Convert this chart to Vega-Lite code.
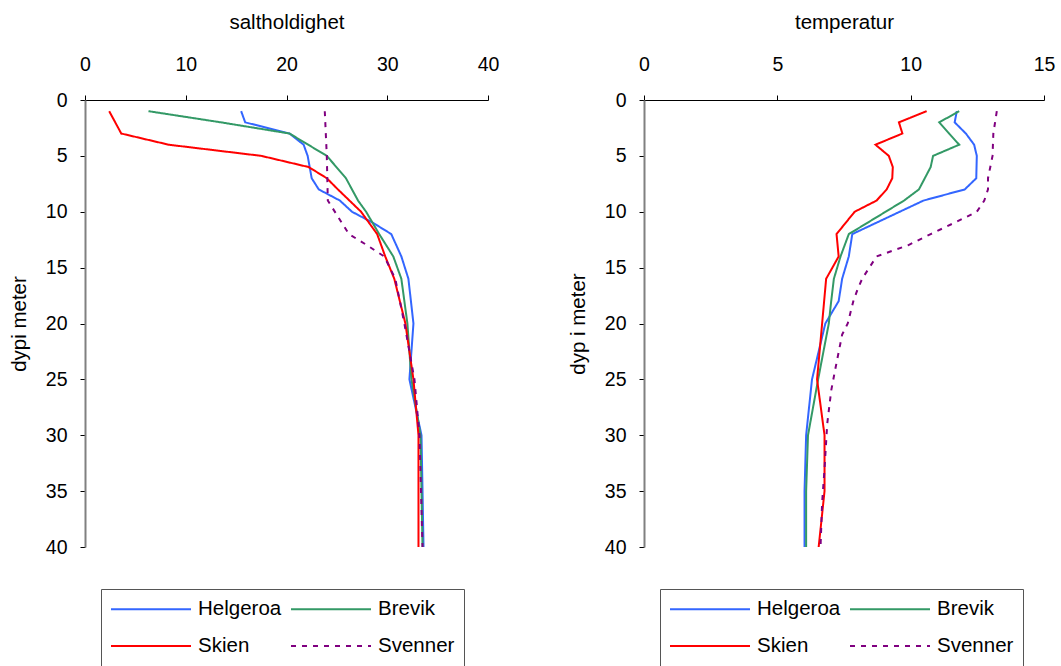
{
  "$schema": "https://vega.github.io/schema/vega-lite/v6.json",
  "padding": {"left": 9, "top": 12, "right": 5, "bottom": 5},
  "config": {
    "font": "Liberation Sans",
    "view": {"stroke": null},
    "axis": {"grid": false, "labelFlush": false, "labelFont": "Liberation Sans", "labelFontSize": 19.5, "labelColor": "black", "titleFont": "Liberation Sans", "titleFontSize": 20.5, "titleFontWeight": "normal", "titleColor": "black", "tickColor": "black", "tickSize": 5, "domainColor": "black"},
    "legend": {"orient": "none", "legendX": 16, "legendY": 489, "direction": "horizontal", "columns": 2, "symbolType": "M-1,0H7", "symbolSize": 400, "labelFont": "Liberation Sans", "labelFontSize": 20.5, "labelColor": "black", "labelOffset": 66, "columnPadding": 5, "rowPadding": 15, "padding": 9, "strokeColor": "#555555", "fillColor": "white"},
    "line": {"strokeCap": "butt"}
  },
  "datasets": {
    "salt": [
      {"site": "Helgeroa", "depth": 1, "v": 15.5}, {"site": "Helgeroa", "depth": 2, "v": 15.9}, {"site": "Helgeroa", "depth": 3, "v": 20.3}, {"site": "Helgeroa", "depth": 4, "v": 21.7}, {"site": "Helgeroa", "depth": 5, "v": 22.1}, {"site": "Helgeroa", "depth": 7, "v": 22.5}, {"site": "Helgeroa", "depth": 8, "v": 23.2}, {"site": "Helgeroa", "depth": 9, "v": 25.3}, {"site": "Helgeroa", "depth": 10, "v": 26.5}, {"site": "Helgeroa", "depth": 11, "v": 28.6}, {"site": "Helgeroa", "depth": 12, "v": 30.4}, {"site": "Helgeroa", "depth": 14, "v": 31.4}, {"site": "Helgeroa", "depth": 16, "v": 32.1}, {"site": "Helgeroa", "depth": 20, "v": 32.6}, {"site": "Helgeroa", "depth": 25, "v": 32.2}, {"site": "Helgeroa", "depth": 30, "v": 33.4}, {"site": "Helgeroa", "depth": 40, "v": 33.6},
      {"site": "Brevik", "depth": 1, "v": 6.3}, {"site": "Brevik", "depth": 2, "v": 13.5}, {"site": "Brevik", "depth": 3, "v": 20.3}, {"site": "Brevik", "depth": 5, "v": 24.0}, {"site": "Brevik", "depth": 7, "v": 25.9}, {"site": "Brevik", "depth": 9, "v": 27.1}, {"site": "Brevik", "depth": 10, "v": 27.9}, {"site": "Brevik", "depth": 12, "v": 29.2}, {"site": "Brevik", "depth": 14, "v": 30.6}, {"site": "Brevik", "depth": 16, "v": 31.4}, {"site": "Brevik", "depth": 20, "v": 32.0}, {"site": "Brevik", "depth": 25, "v": 32.4}, {"site": "Brevik", "depth": 30, "v": 33.3}, {"site": "Brevik", "depth": 40, "v": 33.5},
      {"site": "Skien", "depth": 1, "v": 2.4}, {"site": "Skien", "depth": 2, "v": 3.0}, {"site": "Skien", "depth": 3, "v": 3.6}, {"site": "Skien", "depth": 4, "v": 8.3}, {"site": "Skien", "depth": 5, "v": 17.5}, {"site": "Skien", "depth": 6, "v": 22.2}, {"site": "Skien", "depth": 7, "v": 24.0}, {"site": "Skien", "depth": 8, "v": 25.1}, {"site": "Skien", "depth": 10, "v": 27.4}, {"site": "Skien", "depth": 12, "v": 29.0}, {"site": "Skien", "depth": 14, "v": 29.8}, {"site": "Skien", "depth": 16, "v": 30.7}, {"site": "Skien", "depth": 20, "v": 31.8}, {"site": "Skien", "depth": 25, "v": 32.6}, {"site": "Skien", "depth": 30, "v": 33.1}, {"site": "Skien", "depth": 40, "v": 33.1},
      {"site": "Svenner", "depth": 1, "v": 23.8}, {"site": "Svenner", "depth": 5, "v": 24.0}, {"site": "Svenner", "depth": 9, "v": 24.1}, {"site": "Svenner", "depth": 12, "v": 26.2}, {"site": "Svenner", "depth": 13, "v": 28.0}, {"site": "Svenner", "depth": 14, "v": 29.7}, {"site": "Svenner", "depth": 16, "v": 30.8}, {"site": "Svenner", "depth": 20, "v": 31.7}, {"site": "Svenner", "depth": 25, "v": 32.7}, {"site": "Svenner", "depth": 30, "v": 33.2}, {"site": "Svenner", "depth": 40, "v": 33.5}
    ],
    "temp": [
      {"site": "Helgeroa", "depth": 1, "v": 11.73}, {"site": "Helgeroa", "depth": 2, "v": 11.65}, {"site": "Helgeroa", "depth": 3, "v": 12.07}, {"site": "Helgeroa", "depth": 4, "v": 12.38}, {"site": "Helgeroa", "depth": 5, "v": 12.48}, {"site": "Helgeroa", "depth": 7, "v": 12.46}, {"site": "Helgeroa", "depth": 8, "v": 12.03}, {"site": "Helgeroa", "depth": 9, "v": 10.48}, {"site": "Helgeroa", "depth": 12, "v": 7.81}, {"site": "Helgeroa", "depth": 14, "v": 7.68}, {"site": "Helgeroa", "depth": 16, "v": 7.43}, {"site": "Helgeroa", "depth": 18, "v": 7.3}, {"site": "Helgeroa", "depth": 20, "v": 6.8}, {"site": "Helgeroa", "depth": 25, "v": 6.3}, {"site": "Helgeroa", "depth": 30, "v": 6.08}, {"site": "Helgeroa", "depth": 35, "v": 6.02}, {"site": "Helgeroa", "depth": 40, "v": 6.02},
      {"site": "Brevik", "depth": 1, "v": 11.82}, {"site": "Brevik", "depth": 2, "v": 11.07}, {"site": "Brevik", "depth": 3, "v": 11.44}, {"site": "Brevik", "depth": 4, "v": 11.82}, {"site": "Brevik", "depth": 5, "v": 10.84}, {"site": "Brevik", "depth": 6, "v": 10.75}, {"site": "Brevik", "depth": 8, "v": 10.31}, {"site": "Brevik", "depth": 9, "v": 9.75}, {"site": "Brevik", "depth": 10, "v": 9.06}, {"site": "Brevik", "depth": 12, "v": 7.68}, {"site": "Brevik", "depth": 14, "v": 7.37}, {"site": "Brevik", "depth": 16, "v": 7.12}, {"site": "Brevik", "depth": 18, "v": 7.02}, {"site": "Brevik", "depth": 20, "v": 6.93}, {"site": "Brevik", "depth": 25, "v": 6.53}, {"site": "Brevik", "depth": 30, "v": 6.15}, {"site": "Brevik", "depth": 35, "v": 6.08}, {"site": "Brevik", "depth": 40, "v": 6.08},
      {"site": "Skien", "depth": 1, "v": 10.6}, {"site": "Skien", "depth": 2, "v": 9.56}, {"site": "Skien", "depth": 3, "v": 9.69}, {"site": "Skien", "depth": 4, "v": 8.68}, {"site": "Skien", "depth": 5, "v": 9.18}, {"site": "Skien", "depth": 6, "v": 9.33}, {"site": "Skien", "depth": 7, "v": 9.31}, {"site": "Skien", "depth": 8, "v": 9.1}, {"site": "Skien", "depth": 9, "v": 8.72}, {"site": "Skien", "depth": 10, "v": 7.9}, {"site": "Skien", "depth": 12, "v": 7.22}, {"site": "Skien", "depth": 14, "v": 7.3}, {"site": "Skien", "depth": 16, "v": 6.83}, {"site": "Skien", "depth": 20, "v": 6.68}, {"site": "Skien", "depth": 25, "v": 6.49}, {"site": "Skien", "depth": 30, "v": 6.77}, {"site": "Skien", "depth": 35, "v": 6.77}, {"site": "Skien", "depth": 40, "v": 6.55},
      {"site": "Svenner", "depth": 1, "v": 13.23}, {"site": "Svenner", "depth": 3, "v": 13.1}, {"site": "Svenner", "depth": 5, "v": 13.07}, {"site": "Svenner", "depth": 7, "v": 12.9}, {"site": "Svenner", "depth": 8, "v": 12.9}, {"site": "Svenner", "depth": 9, "v": 12.76}, {"site": "Svenner", "depth": 10, "v": 12.48}, {"site": "Svenner", "depth": 11, "v": 11.63}, {"site": "Svenner", "depth": 12, "v": 10.75}, {"site": "Svenner", "depth": 13, "v": 9.9}, {"site": "Svenner", "depth": 14, "v": 8.72}, {"site": "Svenner", "depth": 15, "v": 8.45}, {"site": "Svenner", "depth": 16, "v": 8.18}, {"site": "Svenner", "depth": 17, "v": 8.0}, {"site": "Svenner", "depth": 18, "v": 7.85}, {"site": "Svenner", "depth": 20, "v": 7.64}, {"site": "Svenner", "depth": 21, "v": 7.43}, {"site": "Svenner", "depth": 24, "v": 7.18}, {"site": "Svenner", "depth": 26, "v": 7.02}, {"site": "Svenner", "depth": 29, "v": 6.87}, {"site": "Svenner", "depth": 33, "v": 6.77}, {"site": "Svenner", "depth": 36, "v": 6.68}, {"site": "Svenner", "depth": 40, "v": 6.62}
    ]
  },
  "bounds": "flush",
  "spacing": 156,
  "resolve": {"scale": {"color": "independent", "strokeDash": "independent", "strokeWidth": "independent"}},
  "hconcat": [
    {
      "width": 403, "height": 447,
      "data": {"name": "salt"},
      "mark": {"type": "line"},
      "encoding": {
        "x": {"field": "v", "type": "quantitative", "scale": {"domain": [0, 40], "nice": false}, "axis": {"orient": "top", "title": "saltholdighet", "values": [0, 10, 20, 30, 40], "labelPadding": 21, "titlePadding": 22}},
        "y": {"field": "depth", "type": "quantitative", "scale": {"domain": [0, 40], "reverse": true, "nice": false}, "axis": {"title": "dypi meter", "values": [0, 5, 10, 15, 20, 25, 30, 35, 40], "labelPadding": 13, "titlePadding": 16, "domainColor": "#808080", "domainWidth": 2}},
        "color": {"field": "site", "type": "nominal", "scale": {"domain": ["Helgeroa", "Brevik", "Skien", "Svenner"], "range": ["#3366FF", "#339966", "#FF0000", "#800080"]}, "legend": {"title": null}},
        "strokeDash": {"field": "site", "type": "nominal", "scale": {"domain": ["Helgeroa", "Brevik", "Skien", "Svenner"], "range": [[1, 0], [1, 0], [1, 0], [5, 6]]}, "legend": {"title": null}},
        "strokeWidth": {"field": "site", "type": "nominal", "scale": {"domain": ["Helgeroa", "Brevik", "Skien", "Svenner"], "range": [2, 2, 2, 3]}, "legend": {"title": null}},
        "order": {"field": "depth", "type": "quantitative"}
      }
    },
    {
      "width": 400, "height": 447,
      "data": {"name": "temp"},
      "mark": {"type": "line"},
      "encoding": {
        "x": {"field": "v", "type": "quantitative", "scale": {"domain": [0, 15], "nice": false}, "axis": {"orient": "top", "title": "temperatur", "values": [0, 5, 10, 15], "labelPadding": 21, "titlePadding": 22}},
        "y": {"field": "depth", "type": "quantitative", "scale": {"domain": [0, 40], "reverse": true, "nice": false}, "axis": {"title": "dyp i meter", "values": [0, 5, 10, 15, 20, 25, 30, 35, 40], "labelPadding": 13, "titlePadding": 16, "domainColor": "#808080", "domainWidth": 2}},
        "color": {"field": "site", "type": "nominal", "scale": {"domain": ["Helgeroa", "Brevik", "Skien", "Svenner"], "range": ["#3366FF", "#339966", "#FF0000", "#800080"]}, "legend": {"title": null}},
        "strokeDash": {"field": "site", "type": "nominal", "scale": {"domain": ["Helgeroa", "Brevik", "Skien", "Svenner"], "range": [[1, 0], [1, 0], [1, 0], [5, 6]]}, "legend": {"title": null}},
        "strokeWidth": {"field": "site", "type": "nominal", "scale": {"domain": ["Helgeroa", "Brevik", "Skien", "Svenner"], "range": [2, 2, 2, 3]}, "legend": {"title": null}},
        "order": {"field": "depth", "type": "quantitative"}
      }
    }
  ]
}
